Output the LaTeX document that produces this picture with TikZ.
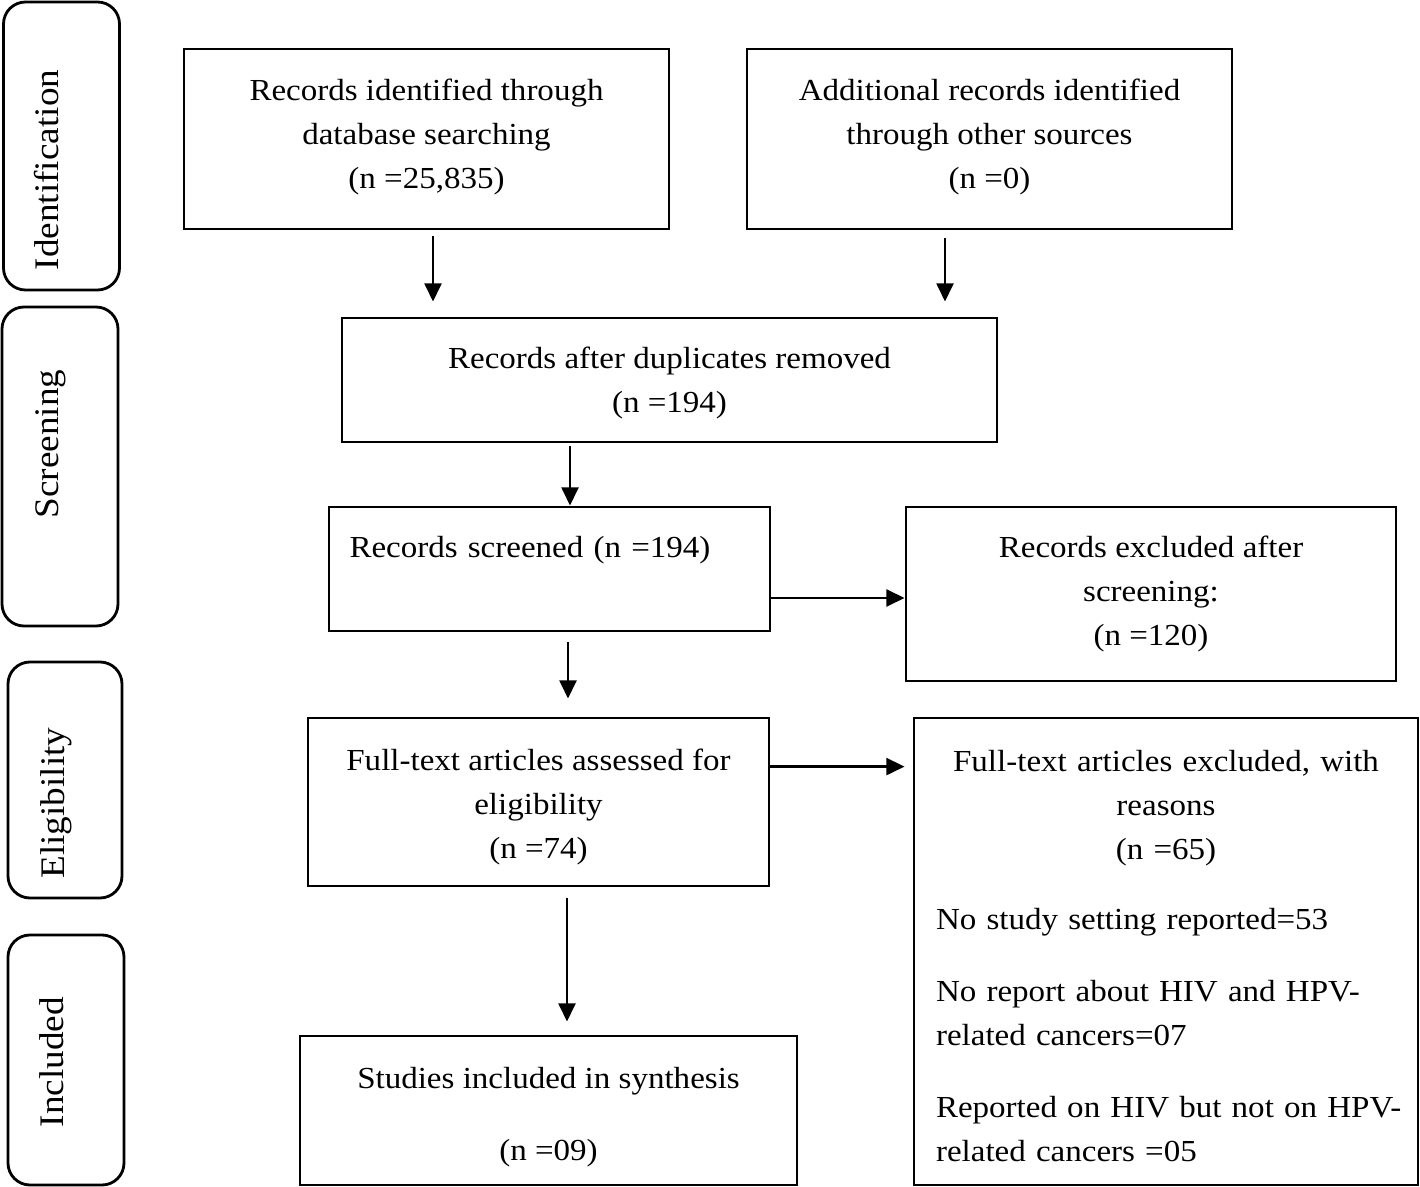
\documentclass[tikz,border=0pt]{standalone}
\usepackage{fontspec}
\setmainfont[FakeStretch=1.08]{Liberation Serif}
\usetikzlibrary{positioning, calc, arrows.meta}

\newcommand{\reasonline}[1]{\makebox[4.6cm][l]{#1}}
\newcommand{\topgap}[1]{\rule{0pt}{#1}}

\tikzset{
	stagebox/.style={draw, line width=0.8pt, align=center, inner sep=0pt, font=\fontsize{8.7}{12.52}\selectfont},
	phasebox/.style={draw, line width=0.8pt, rounded corners=0.22cm, minimum width=1.16cm},
	phaselabel/.style={rotate=90, inner sep=0pt, font=\fontsize{9.8}{11}\selectfont},
	arr/.style={line width=0.8pt, -{Triangle[length=5.2pt, width=4.8pt]}}
}

\begin{document}
\begin{tikzpicture}
	\useasboundingbox (0,0) rectangle (14.2,-11.87);
	% phases
	\node at (0.615,-1.46) [phasebox, minimum height=2.88cm] (identbox) {};
	\node at (0.600,-4.665) [phasebox, minimum height=3.19cm] (screenbox) {};
	\node at (0.650,-7.80) [phasebox, minimum width=1.14cm, minimum height=2.36cm] (eligbox) {};
	\node at (0.660,-10.60) [phasebox, minimum height=2.50cm] (inclbox) {};
	\node at (0.47,-1.70) [phaselabel] (identlabel) {Identification};
	\node at (0.51,-4.44) [phaselabel] (screenlabel) {Screening};
	\node at (0.56,-8.03) [phaselabel] (eliglabel) {Eligibility};
	\node at (0.52,-10.62) [phaselabel] (incllabel) {Included};
	% boxes
	\node at (4.265,-1.39) [stagebox, minimum width=4.85cm, minimum height=1.80cm] (database) {Records identified through\\ database searching\\ (n =25,835)\rule[-3.2pt]{0pt}{0pt}};
	\node at (9.895,-1.39) [stagebox, minimum width=4.85cm, minimum height=1.80cm] (othersrc) {Additional records identified\\ through other sources\\ (n =0)\rule[-3.2pt]{0pt}{0pt}};
	\node at (6.695,-3.80) [stagebox, minimum width=6.55cm, minimum height=1.24cm] (dupl) {\topgap{7.8pt}Records after duplicates removed\\ (n =194)};
	\node at (5.495,-5.69) [stagebox, minimum height=1.24cm, text width=4.0cm, inner xsep=0.205cm, align=left] (screened) {Records screened (n =194)\\ \mbox{}};
	\node at (11.51,-5.94) [stagebox, minimum width=4.90cm, minimum height=1.74cm] (excluded) {Records excluded after\\ screening:\\ (n =120)};
	\node at (5.385,-8.02) [stagebox, minimum width=4.61cm, minimum height=1.68cm] (fulltext) {\topgap{9pt}Full-text articles assessed for\\ eligibility\\ (n =74)};
	\node at (11.66,-9.515) [stagebox, minimum width=5.04cm, minimum height=4.67cm, text width=4.6cm] (ftexcl) {\topgap{8.4pt}Full-text articles excluded, with\\ reasons\\ (n =65)\\[0.26cm]
		\reasonline{No study setting reported=53}\\[0.28cm]
		\reasonline{No report about HIV and HPV-}\\ \reasonline{related cancers=07}\\[0.28cm]
		\reasonline{Reported on HIV but not on HPV-}\\ \reasonline{related cancers =05}};
	\node at (5.485,-11.105) [stagebox, minimum width=4.97cm, minimum height=1.49cm] (synth) {\topgap{10pt}Studies included in synthesis\\[0.28cm] (n =09)};
	% arrows
	\draw[arr, shorten <=0.06cm, shorten >=0.15cm] ([xshift=0.065cm]database.south) -- ([xshift=0.065cm]database.south |- dupl.north);
	\draw[arr, shorten <=0.08cm, shorten >=0.15cm] ([xshift=-0.445cm]othersrc.south) -- ([xshift=-0.445cm]othersrc.south |- dupl.north);
	\draw[arr, shorten <=0.03cm] ([xshift=-0.995cm]dupl.south) -- ([xshift=-0.995cm]dupl.south |- screened.north);
	\draw[arr, shorten <=0.10cm, shorten >=0.18cm] ([xshift=0.185cm]screened.south) -- ([xshift=0.185cm]screened.south |- fulltext.north);
	\draw[arr, shorten <=0.11cm, shorten >=0.13cm] ([xshift=0.285cm]fulltext.south) -- ([xshift=0.285cm]fulltext.south |- synth.north);
	\draw[arr] ([yshift=-0.04cm]screened.east |- excluded.west) -- ([yshift=-0.04cm]excluded.west);
	\draw[arr, shorten >=0.08cm] ([yshift=-0.50cm]fulltext.north east) -- ([yshift=-0.50cm]fulltext.north east -| ftexcl.west);
\end{tikzpicture}
\end{document}
